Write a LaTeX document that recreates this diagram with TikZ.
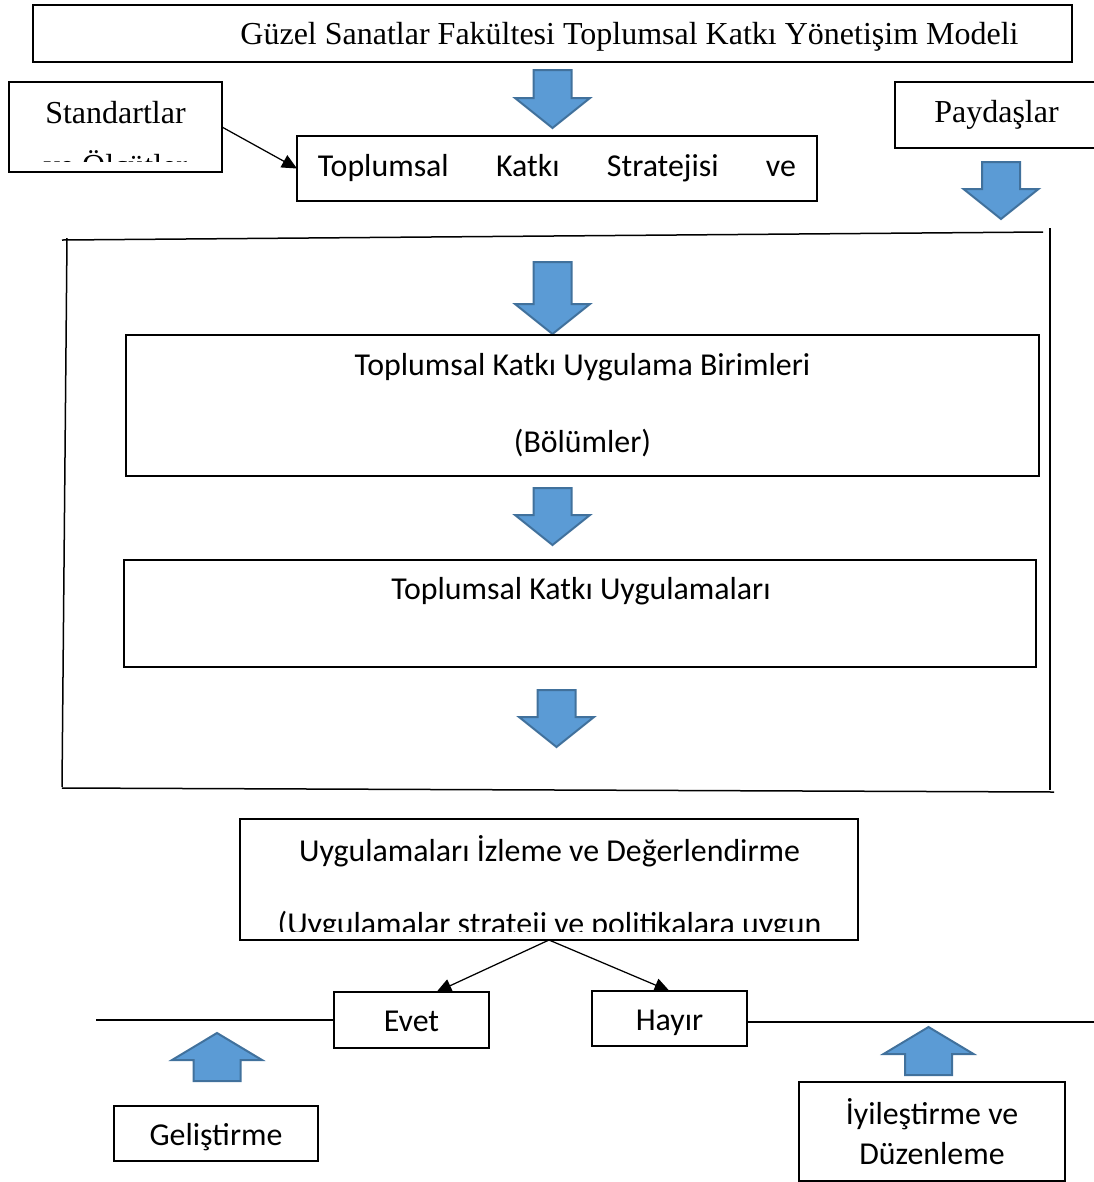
\documentclass[tikz,border=0pt]{standalone}
\usepackage{fontspec}
\setmainfont{Liberation Serif}
\newfontfamily\calibri{Carlito}
\usepackage{xcolor}
\usepackage{tikz}
\usetikzlibrary{arrows.meta}

\definecolor{arrowfill}{HTML}{5B9BD5}
\definecolor{arrowline}{HTML}{41719C}

\tikzset{
  box/.style 2 args={draw,line width=0.6pt,minimum width=#1*0.4pt,minimum height=#2*0.4pt,inner sep=0pt,outer sep=0pt},
  serif/.style={font=\fontsize{12.8}{15}\selectfont},
  sans/.style={font=\calibri\fontsize{12.75}{15.3}\selectfont},
  oneline/.style={text height=9.5pt,text depth=0pt},
  conn/.style={-{Triangle[length=6pt,width=5.5pt]},line width=0.5pt},
  frameline/.style={line width=0.6pt},
  blockarrow/.style={fill=arrowfill,draw=arrowline,line width=0.8pt,line join=miter},
  pics/downblock/.style={code={
    \filldraw[blockarrow] (-19,0) -- (19,0) -- (19,#1-30) -- (37.5,#1-30) -- (0,#1)
      -- (-37.5,#1-30) -- (-19,#1-30) -- cycle;}},
  pics/upblock/.style={code={
    \filldraw[blockarrow] (-23.5,48) -- (23.5,48) -- (23.5,27) -- (45,27) -- (0,0)
      -- (-45,27) -- (-23.5,27) -- cycle;}}
}

\begin{document}
\begin{tikzpicture}[x=0.4pt,y=-0.4pt]
\clip (0,0) rectangle (1094,1182);

% top row
\node[box={1039}{57}] (title) at (552.5,33.5) {};
\node[serif] (titletext) at (629.5,37) {Güzel Sanatlar Fakültesi Toplumsal Katkı Yönetişim Modeli};
\pic at (552.5,70) {downblock=58};

\node[box={213}{90}] (stan) at (115.5,127) {};
\node[serif] (stantext) at (115.5,113) {Standartlar};
\begin{scope}
  \clip (9,82) rectangle (222,161);
  \node[serif,anchor=base] (stannote) at (115.5,176) {ve Ölçütler};
\end{scope}

\node[box={520}{65},sans] (strat) at (557,168.5) {\makebox[191.2pt][s]{Toplumsal Katkı Stratejisi ve}};

\node[box={203}{66},serif] (payd) at (996.5,115) {Paydaşlar};
\pic at (1001,162) {downblock=57};

% frame
\draw[frameline] (62,240) -- (1043,232);
\draw[frameline] (1050,228) -- (1050,790);
\draw[frameline] (62,788) -- (1054,792);
\draw[frameline] (67,238) -- (62,787);

\pic at (552.5,262) {downblock=72};
\node[box={913}{141},sans,align=center] (unit) at (582.5,405.5)
  {Toplumsal Katkı Uygulama Birimleri\\[15.5pt](Bölümler)};

\pic at (552.5,488) {downblock=57};
\node[box={912}{107}] (apps) at (580,613.5) {};
\node[sans] (appstext) at (581,591) {Toplumsal Katkı Uygulamaları};

\pic at (556.5,690) {downblock=57};

% evaluation
\node[box={618}{121}] (izl) at (549,879.5) {};
\node[sans] (izltext) at (549.5,851) {Uygulamaları İzleme ve Değerlendirme};
\begin{scope}
  \clip (240,819) rectangle (858,931);
  \node[sans,anchor=base] (izlnote) at (549.5,934) {(Uygulamalar strateji ve politikalara uygun};
\end{scope}

\node[box={155}{56},sans,oneline] (evet) at (411.5,1020) {Evet};
\node[box={155}{55},sans,oneline] (hayir) at (669.5,1018.5) {Hayır};

\draw[conn] (izl.south) -- ([xshift=10pt]evet.north);
\draw[conn] (izl.south) -- (hayir.north);

\coordinate (leftend) at (96,1020);
\coordinate (rightend) at (1094,1022);
\draw[frameline] (leftend) -- (evet.west);
\draw[frameline] (hayir.east |- rightend) -- (rightend);

\pic at (217,1033) {upblock};
\pic at (928.5,1027) {upblock};

\node[box={204}{55},sans,oneline] (gel) at (216,1133.5) {Geliştirme};
\node[box={266}{99},sans,align=center] (iyi) at (932,1131.5) {İyileştirme ve\\[1pt]Düzenleme};

\draw[conn] (stan.east) -- (strat.west);
\end{tikzpicture}
\end{document}
